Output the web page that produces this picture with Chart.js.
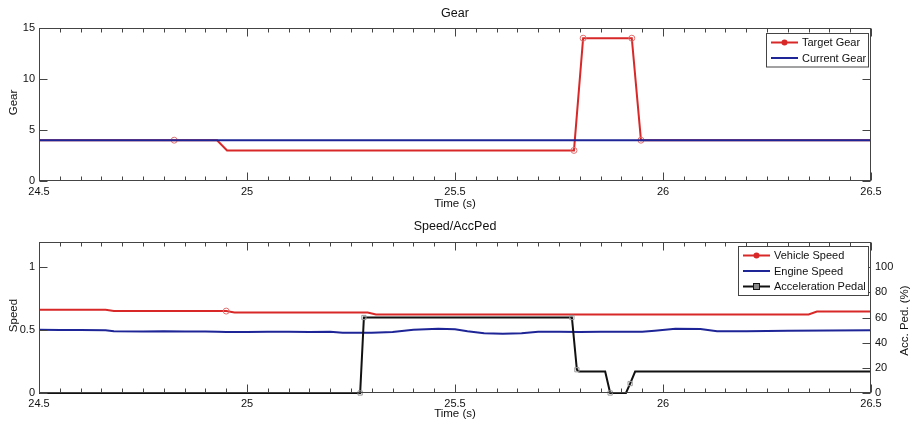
<!DOCTYPE html>
<html>
<head>
<meta charset="utf-8">
<title>Gear / Speed</title>
<script src="https://cdn.jsdelivr.net/npm/chart.js@4.4.0/dist/chart.umd.min.js"></script>
<style>
  body { margin: 0; background: #fff; }
  canvas { display: block; }
</style>
</head>
<body>
<canvas id="gearChart" width="912" height="212"></canvas>
<canvas id="speedChart" width="912" height="213"></canvas>
<script>
// shared time axis (s)
const timeTicks = [24.5, 25, 25.5, 26, 26.5];

// gear plot
const gearTicks = [0, 5, 10, 15];
const targetGearTime = [24.5, 24.825, 24.928, 24.952, 25.786, 25.808, 25.925, 25.947, 26.5];
const targetGear = [4, 4, 4, 3, 3, 14, 14, 4, 4];
const targetGearMarkers = [24.825, 25.786, 25.808, 25.925, 25.947];
const currentGearTime = [24.5, 26.5];
const currentGear = [4, 4];

// speed / pedal plot
const speedTicks = [0, 0.5, 1];
const pedalTicks = [0, 20, 40, 60, 80, 100];
const vehicleTime = [24.5, 24.66, 24.68, 24.95, 24.97, 25.29, 25.31, 26.35, 26.37, 26.5];
const vehicleSpeed = [0.661, 0.661, 0.651, 0.651, 0.64, 0.64, 0.624, 0.624, 0.647, 0.647];
const vehicleMarkers = [24.95];
const engineTime = [24.5, 24.55, 24.6, 24.66, 24.68, 24.75, 24.8, 24.85, 24.9, 24.93, 24.95, 25.0, 25.05,
  25.1, 25.15, 25.2, 25.23, 25.3, 25.35, 25.4, 25.46, 25.5, 25.53, 25.57, 25.615, 25.66, 25.7, 25.75,
  25.8, 25.85, 25.9, 25.95, 25.98, 26.03, 26.09, 26.13, 26.2, 26.3, 26.4, 26.5];
const engineSpeed = [0.502, 0.5, 0.501, 0.499, 0.49, 0.489, 0.491, 0.488, 0.489, 0.486, 0.485, 0.484, 0.486,
  0.487, 0.485, 0.486, 0.479, 0.478, 0.485, 0.503, 0.51, 0.507, 0.49, 0.474, 0.47, 0.475, 0.486, 0.487,
  0.485, 0.487, 0.486, 0.487, 0.495, 0.51, 0.508, 0.49, 0.49, 0.494, 0.496, 0.498];
const pedalTime = [24.5, 25.272, 25.281, 25.781, 25.793, 25.798, 25.861, 25.873, 25.911, 25.921, 25.933, 26.5];
const pedalPos = [0, 0, 60, 60, 18.5, 17, 17, 0, 0, 7.5, 17, 17];
const pedalMarkers = [25.272, 25.281, 25.781, 25.793, 25.873, 25.921];

const RED = '#d82828';
const BLUE = '#1e2596';
const BLACK = '#111111';
const AXIS = '#444444';
const FONT = '"Liberation Sans", Arial, sans-serif';

function points(xs, ys) {
  return xs.map((x, i) => ({ x: x, y: ys[i] }));
}

function markerRadius(marks, r) {
  return ctx => (ctx.raw && marks.includes(ctx.raw.x)) ? r : 0;
}

function fixedTicks(values) {
  return scale => { scale.ticks = values.map(v => ({ value: v })); };
}

function line(ctx, x1, y1, x2, y2) {
  ctx.beginPath();
  ctx.moveTo(x1, y1);
  ctx.lineTo(x2, y2);
  ctx.stroke();
}

// box, inward ticks, titles and legend in the MATLAB style
const framePlugin = {
  id: 'frame',
  afterDraw(chart, args, opts) {
    const ctx = chart.ctx;
    const a = chart.chartArea;
    const x = chart.scales.x;
    const L = Math.round(a.left) + 0.5, R = Math.round(a.right) - 0.5;
    const T = Math.round(a.top) + 0.5, B = Math.round(a.bottom) - 0.5;
    ctx.save();
    ctx.strokeStyle = AXIS;
    ctx.lineWidth = 1;
    ctx.strokeRect(L, T, R - L, B - T);

    // time ticks: minor every 0.05 s, major every 0.5 s
    for (let i = 0; i <= 40; i++) {
      const px = Math.round(x.getPixelForValue(x.min + i * 0.05)) + 0.5;
      const len = i % 10 === 0 ? 8 : 4;
      line(ctx, px, B, px, B - len);
      line(ctx, px, T, px, T + len);
    }
    // value ticks
    (opts.leftTicks || []).forEach(s => {
      const sc = chart.scales[s.id];
      sc.ticks.forEach(t => {
        const py = Math.round(sc.getPixelForValue(t.value)) + 0.5;
        if (s.left) line(ctx, L, py, L + 8, py);
        if (s.right) line(ctx, R, py, R - 8, py);
      });
    });

    // titles
    ctx.fillStyle = '#111';
    ctx.textAlign = 'center';
    ctx.textBaseline = 'middle';
    const cx = (a.left + a.right) / 2;
    ctx.font = '12.5px ' + FONT;
    ctx.fillText(opts.title, cx, opts.titleY);
    ctx.font = '11.5px ' + FONT;
    ctx.fillText('Time (s)', cx, opts.xTitleY);
    ctx.save();
    ctx.translate(14, (a.top + a.bottom) / 2 - 2);
    ctx.rotate(-Math.PI / 2);
    ctx.fillText(opts.yTitle, 0, 0);
    ctx.restore();
    if (opts.y2Title) {
      ctx.save();
      ctx.translate(905, (a.top + a.bottom) / 2 + 3);
      ctx.rotate(-Math.PI / 2);
      ctx.fillText(opts.y2Title, 0, 0);
      ctx.restore();
    }

    // legend
    const lg = opts.legend;
    const sets = lg.order.map(i => chart.data.datasets[i]);
    const h = 18 + (sets.length - 1) * 15.5;
    ctx.fillStyle = '#fff';
    ctx.fillRect(lg.left, lg.top, lg.width, h);
    ctx.strokeStyle = AXIS;
    ctx.strokeRect(lg.left + 0.5, lg.top + 0.5, lg.width, h);
    ctx.font = '11px ' + FONT;
    ctx.textAlign = 'left';
    sets.forEach((ds, i) => {
      const y = lg.top + 9.5 + i * 15.5;
      ctx.strokeStyle = ds.borderColor;
      ctx.lineWidth = 2;
      line(ctx, lg.left + 5, y, lg.left + 32, y);
      ctx.lineWidth = 1;
      if (ds.pointStyle === 'circle') {
        ctx.fillStyle = ds.borderColor;
        ctx.beginPath();
        ctx.arc(lg.left + 18.5, y, 3, 0, Math.PI * 2);
        ctx.fill();
      } else if (ds.pointStyle === 'rect') {
        ctx.fillStyle = '#888';
        ctx.fillRect(lg.left + 15.5, y - 3, 6, 6);
        ctx.strokeStyle = ds.borderColor;
        ctx.strokeRect(lg.left + 15.5, y - 3, 6, 6);
      }
      ctx.fillStyle = '#111';
      ctx.fillText(ds.label, lg.left + 36, y + 0.5);
    });
    ctx.restore();
  }
};

const tickFont = { family: FONT, size: 11 };
const plainLabel = v => String(v);

function timeScale(height) {
  return {
    type: 'linear',
    min: timeTicks[0],
    max: timeTicks[timeTicks.length - 1],
    afterBuildTicks: fixedTicks(timeTicks),
    afterFit: scale => { scale.height = height; },
    grid: { display: false, drawTicks: false },
    border: { display: false },
    ticks: { padding: 4, color: '#111', font: tickFont, maxRotation: 0, callback: plainLabel }
  };
}

function valueScale(min, max, values, position, width) {
  return {
    type: 'linear',
    position: position,
    min: min,
    max: max,
    afterBuildTicks: fixedTicks(values),
    afterFit: scale => { scale.width = width; },
    grid: { display: false, drawTicks: false },
    border: { display: false },
    ticks: { padding: 4, color: '#111', font: tickFont, callback: plainLabel }
  };
}

const common = {
  responsive: false,
  animation: false,
  devicePixelRatio: 1,
  events: [],
  elements: { line: { tension: 0, borderWidth: 2 } }
};

new Chart(document.getElementById('gearChart'), {
  type: 'line',
  data: {
    datasets: [
      {
        label: 'Current Gear',
        data: points(currentGearTime, currentGear),
        borderColor: BLUE,
        pointRadius: 0,
        order: 0
      },
      {
        label: 'Target Gear',
        data: points(targetGearTime, targetGear),
        borderColor: RED,
        pointStyle: 'circle',
        pointRadius: markerRadius(targetGearMarkers, 3),
        pointBorderColor: '#e07070',
        pointBackgroundColor: 'rgba(255,255,255,0)',
        pointBorderWidth: 1,
        order: 1
      }
    ]
  },
  options: Object.assign({}, common, {
    layout: { padding: { top: 28, right: 41, left: 0, bottom: 0 } },
    scales: {
      x: timeScale(31),
      y: valueScale(0, 15, gearTicks, 'left', 39)
    },
    plugins: {
      legend: { display: false },
      tooltip: { enabled: false },
      frame: {
        title: 'Gear', titleY: 14, xTitleY: 204, yTitle: 'Gear',
        leftTicks: [{ id: 'y', left: true, right: true }],
        legend: { left: 766, top: 33, width: 102, order: [1, 0] }
      }
    }
  }),
  plugins: [framePlugin]
});

new Chart(document.getElementById('speedChart'), {
  type: 'line',
  data: {
    datasets: [
      {
        label: 'Acceleration Pedal',
        data: points(pedalTime, pedalPos),
        borderColor: BLACK,
        yAxisID: 'y2',
        pointStyle: 'rect',
        pointRadius: markerRadius(pedalMarkers, 3),
        pointBorderColor: '#999',
        pointBackgroundColor: 'rgba(255,255,255,0)',
        pointBorderWidth: 1,
        clip: 3,
        order: 0
      },
      {
        label: 'Vehicle Speed',
        data: points(vehicleTime, vehicleSpeed),
        borderColor: RED,
        yAxisID: 'y',
        pointStyle: 'circle',
        pointRadius: markerRadius(vehicleMarkers, 3),
        pointBorderColor: '#e07070',
        pointBackgroundColor: 'rgba(255,255,255,0)',
        pointBorderWidth: 1,
        order: 1
      },
      {
        label: 'Engine Speed',
        data: points(engineTime, engineSpeed),
        borderColor: BLUE,
        yAxisID: 'y',
        pointRadius: 0,
        order: 2
      }
    ]
  },
  options: Object.assign({}, common, {
    layout: { padding: { top: 30, right: 0, left: 0, bottom: 0 } },
    scales: {
      x: timeScale(32),
      y: valueScale(0, 1.2, speedTicks, 'left', 39),
      y2: valueScale(0, 120, pedalTicks, 'right', 41)
    },
    plugins: {
      legend: { display: false },
      tooltip: { enabled: false },
      frame: {
        title: 'Speed/AccPed', titleY: 15, xTitleY: 202, yTitle: 'Speed', y2Title: 'Acc. Ped. (%)',
        leftTicks: [{ id: 'y', left: true }, { id: 'y2', right: true }],
        legend: { left: 738, top: 34, width: 130, order: [1, 2, 0] }
      }
    }
  }),
  plugins: [framePlugin]
});
</script>
</body>
</html>
